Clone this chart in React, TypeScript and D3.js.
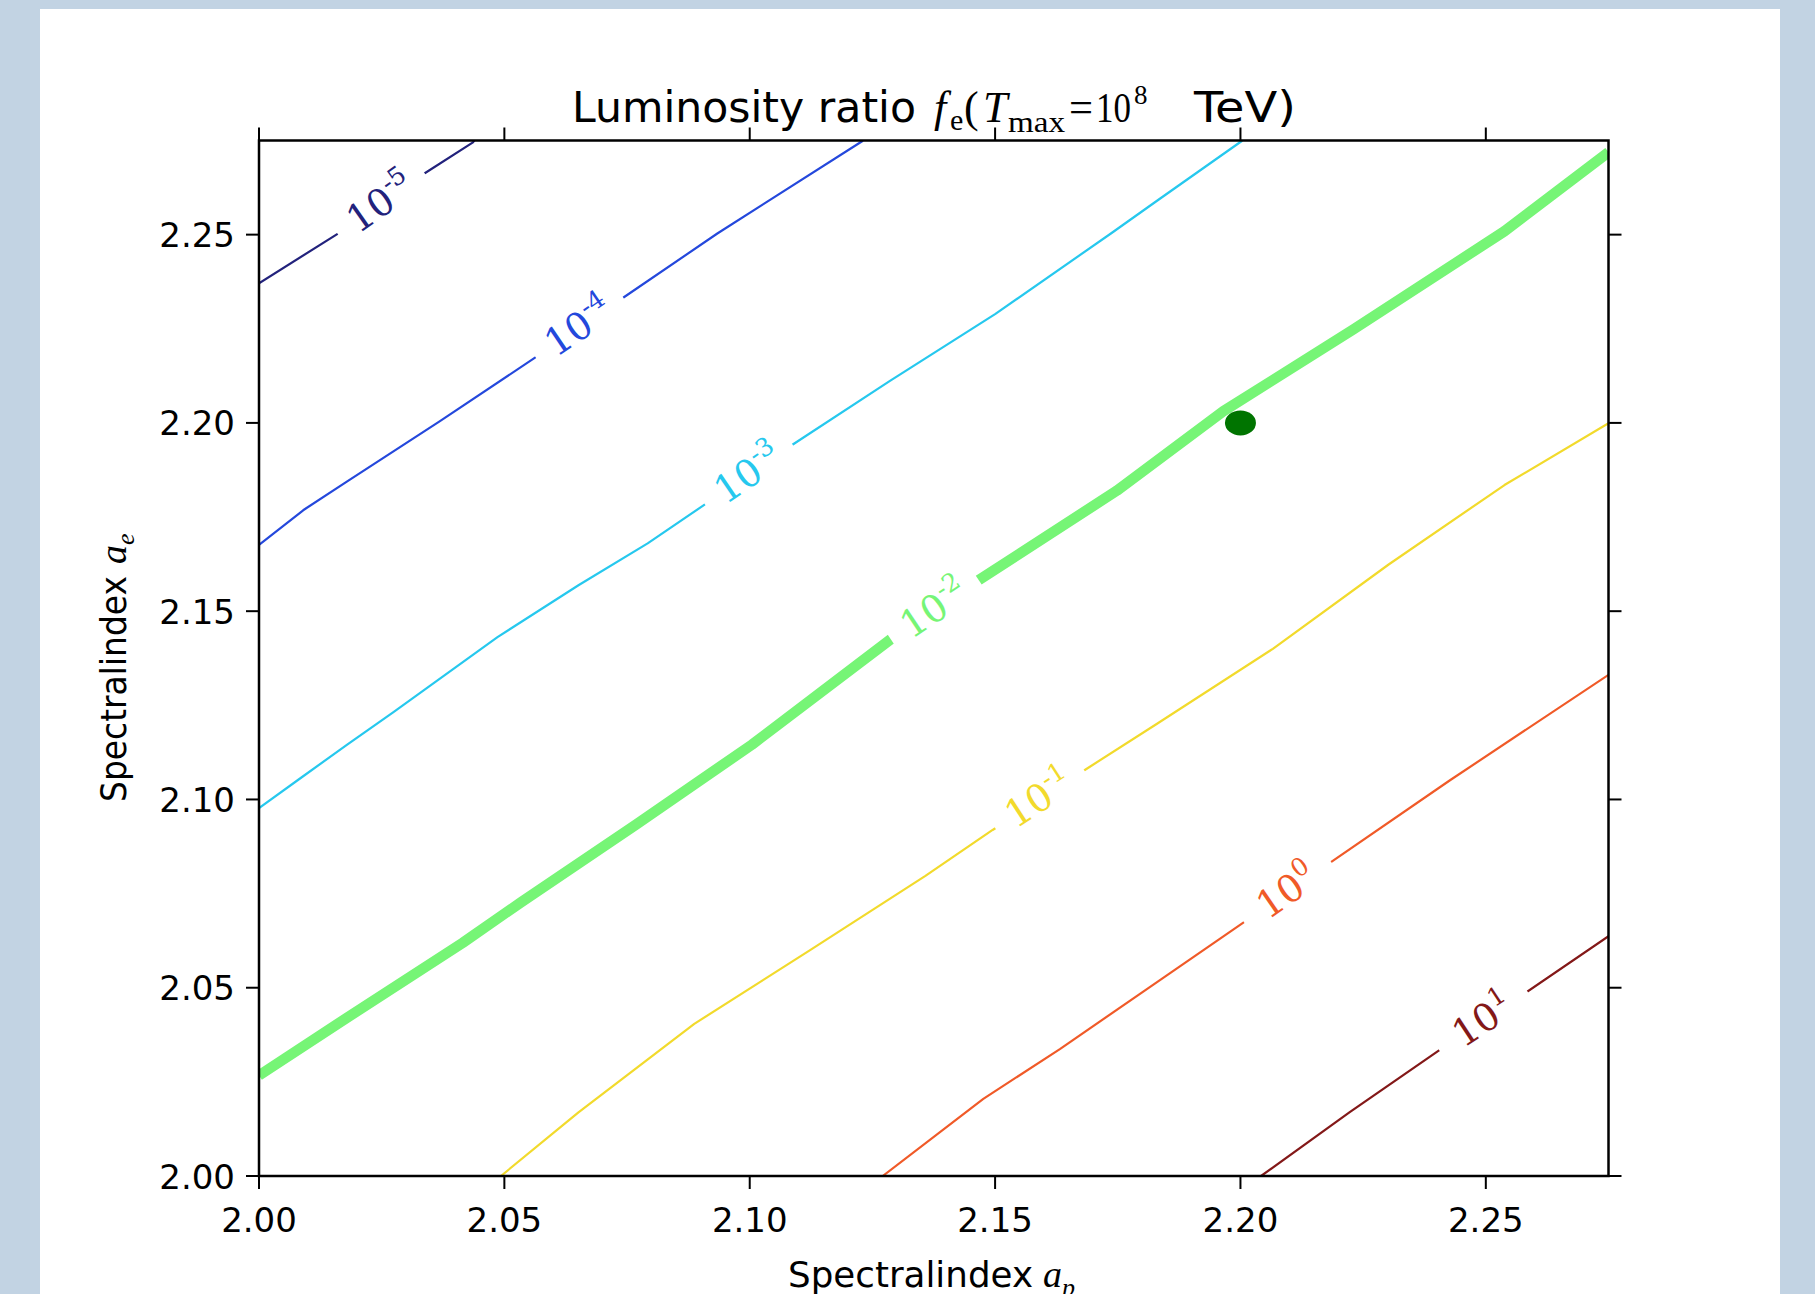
import React from "react";
import * as d3 from "d3";

const W = 1815;
const H = 1294;

// axis ticks
const xTicks = [2.0, 2.05, 2.1, 2.15, 2.2, 2.25];
const yTicks = [2.0, 2.05, 2.1, 2.15, 2.2, 2.25];
const xDomain = [2.0, 2.275];
const yDomain = [2.0, 2.275];

// contour levels (exponent of 10)
const levels = ["-5", "-4", "-3", "-2", "-1", "0", "1"];
const levelColors = ["#22227c", "#2448dc", "#26c8ee", "#76f576", "#f2da2c", "#f05a28", "#831818"];
const levelWidths = [2.2, 2.2, 2.2, 10.5, 2.2, 2.2, 2.2];

// contour paths [alpha_p, alpha_e]
const contourM5 = [[2.0, 2.2371], [2.0165, 2.2506], [2.0333, 2.2659], [2.0436, 2.2745], [2.0442, 2.2755]];
const contourM4 = [[2.0, 2.1676], [2.009, 2.1768], [2.0179, 2.1844], [2.0368, 2.2004], [2.0561, 2.2172], [2.0745, 2.2335], [2.0934, 2.2503], [2.1229, 2.2748], [2.1233, 2.2755]];
const contourM3 = [[2.0, 2.0977], [2.0085, 2.1057], [2.0179, 2.1145], [2.0274, 2.1232], [2.0486, 2.1431], [2.0651, 2.1569], [2.0792, 2.1680], [2.0908, 2.1783], [2.1087, 2.1942], [2.1285, 2.2111], [2.15, 2.2289], [2.1736, 2.2503], [2.183, 2.2590], [2.2002, 2.2748], [2.2006, 2.2755]];
const contourM2 = [[2.0, 2.0267], [2.0179, 2.042], [2.0415, 2.0619], [2.0533, 2.0726], [2.0769, 2.0934], [2.1005, 2.1146], [2.129, 2.1428], [2.1465, 2.1581], [2.1748, 2.182], [2.1965, 2.2031], [2.2231, 2.2249], [2.2538, 2.2509], [2.275, 2.2719]];
const contourM1 = [[2.0493, 2.0], [2.0651, 2.0169], [2.0887, 2.0404], [2.1123, 2.06], [2.1358, 2.0797], [2.1495, 2.0919], [2.1686, 2.1081], [2.183, 2.1201], [2.2066, 2.14], [2.2302, 2.1624], [2.2538, 2.1835], [2.275, 2.1999]];
const contourP0 = [[2.1271, 2.0], [2.1476, 2.0205], [2.1632, 2.0337], [2.183, 2.0515], [2.2014, 2.068], [2.2177, 2.0827], [2.2427, 2.1051], [2.275, 2.1331]];
const contourP1 = [[2.2042, 2.0], [2.2222, 2.0169], [2.2415, 2.0343], [2.2575, 2.0481], [2.275, 2.0637]];
const contours = [contourM5, contourM4, contourM3, contourM2, contourM1, contourP0, contourP1];

// x positions (alpha_p) where the inline labels sit
const labelX = [2.0249, 2.0653, 2.0998, 2.1377, 2.1591, 2.2096, 2.2495];

// best-fit point
const bestPoint = [2.2, 2.2];

const PL = 259, PR = 1608.5, PT = 140.5, PB = 1176;

export default function App() {
  const xs = d3.scaleLinear().domain(xDomain).range([PL, PR]);
  const ys = d3.scaleLinear().domain(yDomain).range([PB, PT]);
  const line = d3.line<number[]>().x((d) => xs(d[0])).y((d) => ys(d[1]));

  const labelInfo = (pts: number[][], lx: number) => {
    for (let i = 0; i < pts.length - 1; i++) {
      const a = pts[i], b = pts[i + 1];
      if (lx >= a[0] && lx <= b[0]) {
        const t = (lx - a[0]) / (b[0] - a[0]);
        const y = a[1] + t * (b[1] - a[1]);
        const ang = (Math.atan2(ys(b[1]) - ys(a[1]), xs(b[0]) - xs(a[0])) * 180) / Math.PI;
        return { px: xs(lx), py: ys(y), ang };
      }
    }
    return { px: 0, py: 0, ang: 0 };
  };

  const serif = "'Liberation Serif', 'DejaVu Serif', serif";
  const sans = "'DejaVu Sans', sans-serif";

  return (
    <svg width={W} height={H} style={{ position: "absolute", left: 0, top: 0, display: "block" }}>
      <rect x={0} y={0} width={W} height={H} fill="#c2d3e3" />
      <rect x={40} y={9} width={1740} height={H - 9} fill="#ffffff" />
      <defs>
        <clipPath id="plotclip">
          <rect x={PL} y={PT} width={PR - PL} height={PB - PT} />
        </clipPath>
      </defs>

      <g clipPath="url(#plotclip)">
        {contours.map((pts, i) => (
          <path key={"c" + i} d={line(pts) || ""} fill="none" stroke={levelColors[i]} strokeWidth={levelWidths[i]} strokeLinecap="butt" strokeLinejoin="round" />
        ))}
        {contours.map((pts, i) => {
          const { px, py, ang } = labelInfo(pts, labelX[i]);
          return (
            <g key={"l" + i} transform={`translate(${px},${py}) rotate(${ang})`}>
              <rect x={-53} y={-14} width={106} height={28} fill="#ffffff" />
              <text x={0} y={12} textAnchor="middle" fontFamily="'DejaVu Serif', serif" fontSize={38} fill={levelColors[i]}>
                10<tspan dy={-17} fontSize={25}>{levels[i]}</tspan>
              </text>
            </g>
          );
        })}
        <ellipse cx={xs(bestPoint[0])} cy={ys(bestPoint[1])} rx={15.5} ry={12.5} fill="#007400" />
      </g>

      {/* spines */}
      <rect x={PL} y={PT} width={PR - PL} height={PB - PT} fill="none" stroke="#000" strokeWidth={2.5} />

      {/* ticks */}
      {xTicks.map((t) => (
        <g key={"xt" + t}>
          <line x1={xs(t)} x2={xs(t)} y1={PB} y2={PB + 13} stroke="#000" strokeWidth={2} />
          <line x1={xs(t)} x2={xs(t)} y1={PT} y2={PT - 13} stroke="#000" strokeWidth={2} />
          <text x={xs(t)} y={1232} textAnchor="middle" fontFamily={sans} fontSize={34} fill="#000">
            {t.toFixed(2)}
          </text>
        </g>
      ))}
      {yTicks.map((t) => (
        <g key={"yt" + t}>
          <line x1={PL} x2={PL - 13} y1={ys(t)} y2={ys(t)} stroke="#000" strokeWidth={2} />
          <line x1={PR} x2={PR + 13} y1={ys(t)} y2={ys(t)} stroke="#000" strokeWidth={2} />
          <text x={235} y={ys(t) + 12.5} textAnchor="end" fontFamily={sans} fontSize={34} fill="#000">
            {t.toFixed(2)}
          </text>
        </g>
      ))}

      {/* title */}
      <g fill="#000">
        <text x={572} y={122} fontFamily={sans} fontSize={42} textLength={344} lengthAdjust="spacingAndGlyphs">Luminosity ratio</text>
        <text x={934} y={122} fontFamily={serif} fontStyle="italic" fontSize={44}>f</text>
        <text x={950} y={130} fontFamily={serif} fontSize={30}>e</text>
        <text x={964} y={122} fontFamily={serif} fontSize={44}>(</text>
        <text x={983} y={122} fontFamily={serif} fontStyle="italic" fontSize={44}>T</text>
        <text x={1008} y={132} fontFamily={serif} fontSize={30} textLength={57} lengthAdjust="spacingAndGlyphs">max</text>
        <text x={1069} y={122} fontFamily={serif} fontSize={44} textLength={24} lengthAdjust="spacingAndGlyphs">=</text>
        <text x={1096} y={122} fontFamily={serif} fontSize={42} textLength={35} lengthAdjust="spacingAndGlyphs">10</text>
        <text x={1134} y={104} fontFamily={serif} fontSize={27}>8</text>
        <text x={1194} y={122} fontFamily={sans} fontSize={42} textLength={102} lengthAdjust="spacingAndGlyphs">TeV)</text>
      </g>

      {/* x label */}
      <text x={788} y={1287} fontFamily={sans} fontSize={35} fill="#000" textLength={245} lengthAdjust="spacingAndGlyphs">
        Spectralindex
      </text>
      <text x={1043} y={1287} fontFamily={serif} fontStyle="italic" fontSize={38} fill="#000">a</text>
      <text x={1062} y={1296} fontFamily={serif} fontStyle="italic" fontSize={26} fill="#000">p</text>

      {/* y label */}
      <g transform="translate(126,802) rotate(-90)">
        <text x={0} y={0} fontFamily={sans} fontSize={35} fill="#000" textLength={226} lengthAdjust="spacingAndGlyphs">Spectralindex</text>
        <text x={238} y={0} fontFamily={serif} fontStyle="italic" fontSize={38} fill="#000">a</text>
        <text x={257} y={8} fontFamily={serif} fontStyle="italic" fontSize={26} fill="#000">e</text>
      </g>
    </svg>
  );
}
